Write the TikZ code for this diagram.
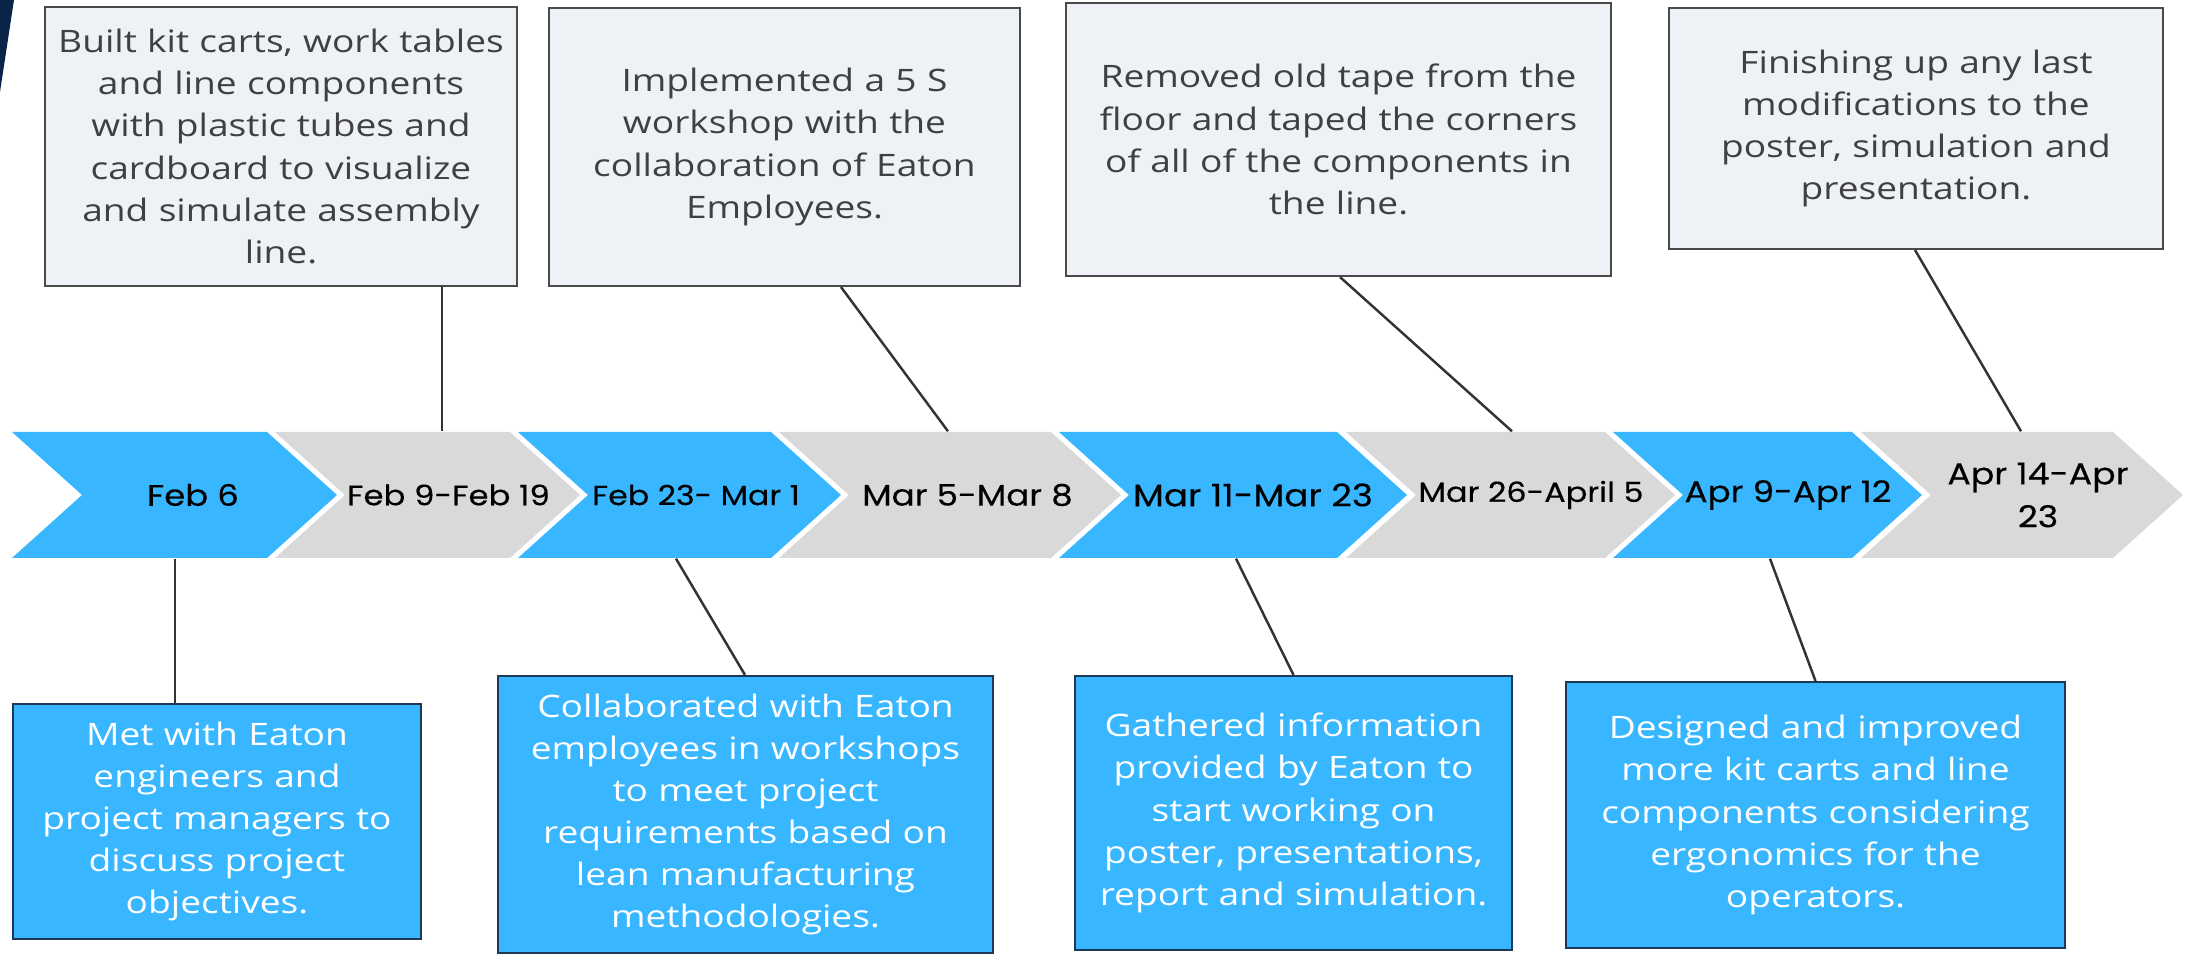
\documentclass[tikz,border=0pt]{standalone}
\usepackage{fontspec}
\usepackage{tikz}
\usetikzlibrary{positioning}
\newfontfamily\boxfont[FakeStretch=1.2]{Open Sans}
\newfontfamily\datefont[FakeStretch=1.15,FakeBold=0.3]{Poppins}
\definecolor{chevblue}{HTML}{38B6FF}
\definecolor{chevgray}{HTML}{D9D9D9}
\definecolor{topfill}{HTML}{EEF2F7}
\definecolor{boxline}{HTML}{4A4A4A}
\definecolor{bluebline}{HTML}{1C3A57}
\definecolor{toptext}{HTML}{404040}
\definecolor{linkgray}{HTML}{333333}
\definecolor{navy}{HTML}{0A2348}
\tikzstyle{topbox}=[
        draw=boxline,
        fill=topfill,
        line width=0.6pt,
        inner sep=0pt,
        align=center,
        text=toptext,
        font=\boxfont\fontsize{8.8}{12}\selectfont
]
\tikzstyle{bluebox}=[
        draw=bluebline,
        fill=chevblue,
        line width=0.6pt,
        inner sep=0pt,
        align=center,
        text=white,
        font=\boxfont\fontsize{8.8}{12}\selectfont
]
\tikzstyle{datelbl}=[inner sep=0pt,minimum height=1.26cm,align=center,
font=\datefont\fontsize{8}{12.2}\selectfont]
\tikzstyle{link}=[draw=linkgray,line width=0.7pt]

\begin{document}
\begin{tikzpicture}
\useasboundingbox (0,0) rectangle (21.85,-9.54);
\fill[navy] (0,0) -- (0.14,0) -- (0,-0.92) -- cycle;
%chevrons
\foreach \nx/\tx/\col in {0.82/3.37/chevblue, 3.45/5.80/chevgray, 5.88/8.41/chevblue,
  8.49/11.21/chevgray, 11.29/14.07/chevblue, 14.16/16.75/chevgray,
  16.83/19.22/chevblue, 19.31/21.83/chevgray}
  \fill[\col] ({\nx-0.7},-4.32) -- ({\tx-0.7},-4.32) -- (\tx,-4.95)
    -- ({\tx-0.7},-5.58) -- ({\nx-0.7},-5.58) -- (\nx,-4.95) -- cycle;
\node[datelbl,font=\datefont\fontsize{8.4}{12.2}\selectfont] (c1) at (1.93,-4.95) {Feb 6};
\node[datelbl] (c2) at (4.485,-4.95) {Feb 9-Feb 19};
\node[datelbl,font=\datefont\fontsize{7.85}{12.2}\selectfont] (c3) at (6.96,-4.95) {Feb 23- Mar 1};
\node[datelbl,font=\datefont\fontsize{8.45}{12.2}\selectfont] (c4) at (9.675,-4.95) {Mar 5-Mar 8};
\node[datelbl,font=\datefont\fontsize{8.85}{12.2}\selectfont] (c5) at (12.53,-4.95) {Mar 11-Mar 23};
\node[datelbl,font=\datefont\fontsize{7.9}{12.2}\selectfont] (c6) at (15.31,-4.95) {Mar 26-April 5};
\node[datelbl,font=\datefont\fontsize{8.45}{12.2}\selectfont] (c7) at (17.88,-4.95) {Apr 9-Apr 12};
\node[datelbl,font=\datefont\fontsize{8.6}{12.2}\selectfont] (c8) at (20.38,-4.95) {Apr 14-Apr\\23};
%upper boxes
\node[topbox,minimum width=4.72cm,minimum height=2.79cm,text width=4.6cm] (t1) at (2.81,-1.465)
 {Built kit carts, work tables\\and line components\\with plastic tubes and\\cardboard to visualize\\and simulate assembly\\line.};
\node[topbox,minimum width=4.71cm,minimum height=2.78cm,text width=4.6cm] (t2) at (7.845,-1.47)
 {Implemented a 5 S\\workshop with the\\collaboration of Eaton\\Employees.};
\node[topbox,minimum width=5.45cm,minimum height=2.73cm,text width=5.3cm] (t3) at (13.385,-1.395)
 {Removed old tape from the\\floor and taped the corners\\of all of the components in\\the line.};
\node[topbox,minimum width=4.94cm,minimum height=2.41cm,text width=4.8cm] (t4) at (19.16,-1.285)
 {Finishing up any last\\modifications to the\\poster, simulation and\\presentation.};
%lower boxes
\node[bluebox,minimum width=4.08cm,minimum height=2.35cm,text width=3.95cm] (b1) at (2.17,-8.215)
 {Met with Eaton\\engineers and\\project managers to\\discuss project\\objectives.};
\node[bluebox,minimum width=4.95cm,minimum height=2.77cm,text width=4.8cm] (b2) at (7.455,-8.145)
 {Collaborated with Eaton\\employees in workshops\\to meet project\\requirements based on\\lean manufacturing\\methodologies.};
\node[bluebox,minimum width=4.37cm,minimum height=2.74cm,text width=4.25cm] (b3) at (12.935,-8.13)
 {Gathered information\\provided by Eaton to\\start working on\\poster, presentations,\\report and simulation.};
\node[bluebox,minimum width=4.99cm,minimum height=2.66cm,text width=4.85cm] (b4) at (18.155,-8.15)
 {Designed and improved\\more kit carts and line\\components considering\\ergonomics for the\\operators.};
%links
\draw[link] ([xshift=1.61cm]t1.south) -- ([xshift=-0.065cm]c2.north);
\draw[link] ([xshift=0.565cm]t2.south) -- ([xshift=-0.195cm]c4.north);
\draw[link] ([xshift=0.015cm]t3.south) -- ([xshift=-0.19cm]c6.north);
\draw[link] ([xshift=-0.01cm]t4.south) -- ([xshift=-0.17cm]c8.north);
\draw[link] ([xshift=-0.42cm]b1.north) -- ([xshift=-0.18cm]c1.south);
\draw[link] ([xshift=-0.005cm]b2.north) -- ([xshift=-0.2cm]c3.south);
\draw[link] (b3.north) -- ([xshift=-0.17cm]c5.south);
\draw[link] (b4.north) -- ([xshift=-0.18cm]c7.south);
\end{tikzpicture}
\end{document}
